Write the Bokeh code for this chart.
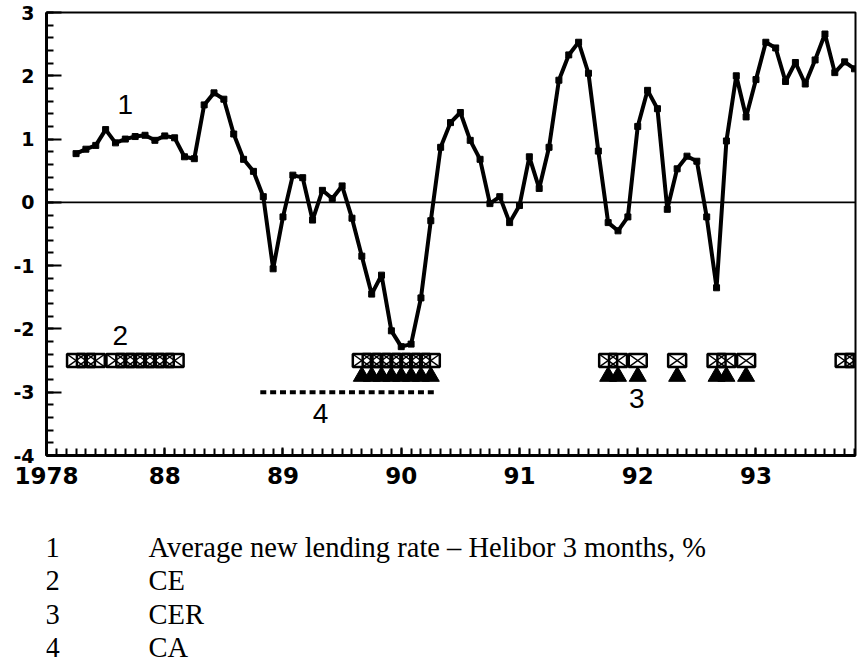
from bokeh.plotting import figure
from bokeh.layouts import column
from bokeh.models import FixedTicker, Label, Span, Range1d
from bokeh.core.properties import value
from bokeh.embed import file_html
from bokeh.resources import INLINE

# Months counted from January 1987 (0 = Jan 1987)
rate_months = list(range(3, 83))
rate_values = [0.77, 0.84, 0.90, 1.15, 0.94, 1.00, 1.04, 1.06, 0.98, 1.05,
               1.02, 0.72, 0.69, 1.54, 1.73, 1.63, 1.08, 0.68, 0.49, 0.09,
               -1.05, -0.23, 0.43, 0.39, -0.28, 0.19, 0.06, 0.26, -0.25, -0.85,
               -1.45, -1.15, -2.03, -2.28, -2.24, -1.51, -0.29, 0.87, 1.26, 1.42,
               0.98, 0.68, -0.02, 0.09, -0.32, -0.05, 0.72, 0.22, 0.87, 1.93,
               2.33, 2.53, 2.04, 0.81, -0.32, -0.45, -0.23, 1.20, 1.77, 1.48,
               -0.11, 0.53, 0.73, 0.65, -0.23, -1.35, 0.97, 2.00, 1.35, 1.94,
               2.53, 2.44, 1.91, 2.21, 1.87, 2.25, 2.66, 2.05, 2.22, 2.11]

ce_months = [3, 4, 5, 7, 8, 9, 10, 11, 12, 13, 32, 33, 34, 35, 36, 37, 38, 39,
             57, 58, 60, 64, 68, 69, 71, 81, 82]
cer_months = [32, 33, 34, 35, 36, 37, 38, 39, 57, 58, 60, 64, 68, 69, 71]
ca_months = list(range(22, 40))

year_ticks = [0, 12, 24, 36, 48, 60, 72]
year_labels = ["1978", "88", "89", "90", "91", "92", "93"]
y_ticks = [-4, -3, -2, -1, 0, 1, 2, 3]
y_labels = ["-4", "-3", "-2", "-1", "0", "1", "2", "3"]

legend_keys = ["1", "2", "3", "4"]
legend_names = ["Average new lending rate \u2013 Helibor 3 months, %", "CE", "CER", "CA"]

W = 865
H1 = 495
H2 = 662 - H1
FL, FR = 46, 855  # frame left / right in page pixels

p = figure(width=W, height=H1, x_range=Range1d(0, 82.1), y_range=Range1d(-4, 3),
           output_backend="svg", toolbar_location=None,
           min_border_left=FL, min_border_right=W - FR, min_border_top=12, min_border_bottom=H1 - 455)
p.xgrid.visible = False
p.ygrid.visible = False
p.outline_line_color = "black"
p.outline_line_width = 2
p.outline_line_alpha = 1

# axes
p.xaxis.ticker = FixedTicker(ticks=year_ticks, minor_ticks=list(range(0, 83)))
p.xaxis.major_label_overrides = {t: l for t, l in zip(year_ticks, year_labels)}
p.xaxis.major_tick_in = 8
p.xaxis.major_tick_out = 0
p.xaxis.minor_tick_in = 7
p.xaxis.minor_tick_out = 0
p.xaxis.major_label_text_font = "DejaVu Sans"
p.xaxis.major_label_text_font_style = "bold"
p.xaxis.major_label_text_font_size = "23px"
p.xaxis.major_label_standoff = 11

minor_y = [round(-4 + 0.2 * i, 2) for i in range(36)]
p.yaxis.ticker = FixedTicker(ticks=y_ticks, minor_ticks=minor_y)
p.yaxis.major_label_overrides = {t: l for t, l in zip(y_ticks, y_labels)}
p.yaxis.major_tick_in = 15
p.yaxis.major_tick_out = 0
p.yaxis.minor_tick_in = 7
p.yaxis.minor_tick_out = 0
p.yaxis.major_label_text_font = "DejaVu Sans"
p.yaxis.major_label_text_font_style = "bold"
p.yaxis.major_label_text_font_size = "19px"
p.yaxis.major_label_standoff = 12

for ax in (p.xaxis[0], p.yaxis[0]):
    ax.axis_line_width = 3
    ax.axis_line_color = "black"
    ax.major_tick_line_color = "black"
    ax.minor_tick_line_color = "black"
    ax.major_tick_line_width = 2
    ax.minor_tick_line_width = 2
    ax.major_label_text_color = "black"

p.add_layout(Span(location=0, dimension="width", line_color="black", line_width=1.6))

# series 1
p.line(rate_months, rate_values, line_color="black", line_width=4)
p.scatter(rate_months, rate_values, marker="square", size=6, color="black")

# series 2 (CE) boxes with crosses
hw, hh = 0.9, 0.1
p.rect(x=ce_months, y=-2.5, width=18, height=13, width_units="screen", height_units="screen",
       fill_color=None, line_color="black", line_width=2.5)
p.segment(x0=[m - hw for m in ce_months], y0=-2.5 - hh, x1=[m + hw for m in ce_months], y1=-2.5 + hh,
          line_color="black", line_width=1.5)
p.segment(x0=[m - hw for m in ce_months], y0=-2.5 + hh, x1=[m + hw for m in ce_months], y1=-2.5 - hh,
          line_color="black", line_width=1.5)

# series 3 (CER) triangles
p.scatter(cer_months, -2.75, marker="triangle", size=17, color="black")

# series 4 (CA) dashes
p.rect(x=ca_months, y=-3.0, width=6, height=4, width_units="screen", height_units="screen",
       fill_color="black", line_color=None)

# in-plot series numbers
for txt, x, y in [("1", 8.0, 1.54), ("2", 7.5, -2.11), ("4", 27.8, -3.33), ("3", 59.9, -3.1)]:
    p.add_layout(Label(x=x, y=y, text=txt, text_font="Liberation Sans", text_font_size="28px",
                       text_align="center", text_baseline="middle", text_color="black"))

# legend below, in its own figure (page-pixel coordinates, y downward)
p2 = figure(width=W, height=H2, x_range=Range1d(FL, FR), y_range=Range1d(H2, 0),
            output_backend="svg", toolbar_location=None, x_axis_type=None, y_axis_type=None,
            min_border_left=FL, min_border_right=W - FR, min_border_top=0, min_border_bottom=0,
            outline_line_color=None)
row_y = [52 + 33.3 * i for i in range(len(legend_keys))]
p2.text(x=[52] * len(legend_keys), y=row_y, text=legend_keys, text_font=value("Liberation Serif"),
        text_font_size=value("28.5px"), text_align="center", text_baseline="middle", text_color="black")
p2.text(x=[148] * len(legend_names), y=row_y, text=legend_names, text_font=value("Liberation Serif"),
        text_font_size=value("28.5px"), text_align="left", text_baseline="middle", text_color="black")

layout = column(p, p2, spacing=0)
open("out.html", "w").write(file_html(layout, INLINE))
